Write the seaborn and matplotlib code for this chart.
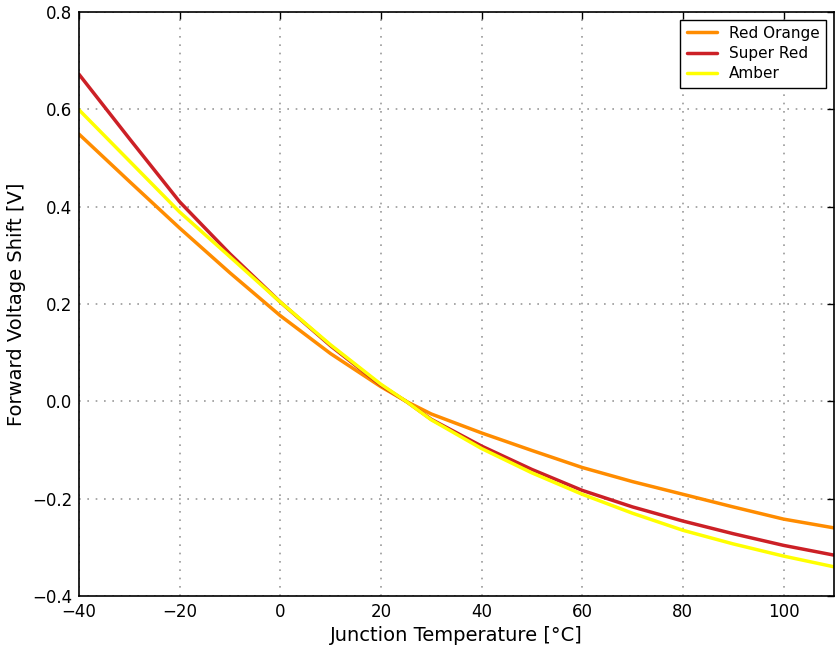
import matplotlib
matplotlib.use("Agg")
import matplotlib.pyplot as plt
import seaborn as sns
import pandas as pd

temperature = [-40, -30, -20, -10, 0, 10, 20, 25, 30, 40, 50, 60, 70, 80, 90, 100, 110]
red_orange = [0.549, 0.452, 0.356, 0.264, 0.176, 0.098, 0.030, 0.0, -0.026, -0.065,
              -0.101, -0.136, -0.165, -0.191, -0.217, -0.242, -0.260]
super_red = [0.672, 0.540, 0.410, 0.303, 0.204, 0.114, 0.033, 0.0, -0.037, -0.092,
             -0.140, -0.183, -0.217, -0.246, -0.272, -0.296, -0.316]
amber = [0.599, 0.494, 0.389, 0.297, 0.204, 0.116, 0.035, 0.0, -0.038, -0.097,
         -0.147, -0.191, -0.230, -0.265, -0.293, -0.318, -0.340]
series_names = ["Red Orange", "Super Red", "Amber"]
colors = ["#ff8c00", "#cc2026", "#ffff00"]

rows = []
for name, vals in zip(series_names, [red_orange, super_red, amber]):
    for t, v in zip(temperature, vals):
        rows.append({"Temperature": t, "Shift": v, "Series": name})
df = pd.DataFrame(rows)

sns.set_style("white")
plt.rcParams["font.family"] = ["DejaVu Sans"]
plt.rcParams["text.color"] = "black"
plt.rcParams["axes.labelcolor"] = "black"
plt.rcParams["xtick.color"] = "black"
plt.rcParams["ytick.color"] = "black"

fig = plt.figure(figsize=(8.35, 6.49), dpi=100)
ax = fig.add_axes([0.0946, 0.0817, 0.904, 0.8998])

sns.lineplot(data=df, x="Temperature", y="Shift", hue="Series",
             hue_order=series_names, palette=colors, linewidth=2.5, ax=ax,
             legend=True)

ax.set_xlim(-40, 110)
ax.set_ylim(-0.4, 0.8)
ax.set_xticks([-40, -20, 0, 20, 40, 60, 80, 100])
ax.set_yticks([-0.4, -0.2, 0.0, 0.2, 0.4, 0.6, 0.8])
ax.set_yticklabels(["\u22120.4", "\u22120.2", "0.0", "0.2", "0.4", "0.6", "0.8"])
ax.set_xticklabels(["\u221240", "\u221220", "0", "20", "40", "60", "80", "100"])
ax.grid(True, linestyle=(0, (1, 4)), color="#999999", linewidth=1.2)
ax.tick_params(direction="in", length=5, width=1, top=True, right=True,
               labelsize=12, pad=5, color="black", labelcolor="black")
for s in ax.spines.values():
    s.set_color("black")
    s.set_linewidth(1.2)
ax.set_xlabel("Junction Temperature [\u00b0C]", fontsize=14, labelpad=4, color="black")
ax.set_ylabel("Forward Voltage Shift [V]", fontsize=14, labelpad=4, color="black")

leg = ax.legend(loc="upper right", fontsize=11, frameon=True, fancybox=False,
                edgecolor="black", framealpha=1, borderaxespad=0.5,
                handlelength=2.0, title=None, labelspacing=0.35)
leg.get_frame().set_linewidth(1.0)
for line in leg.get_lines():
    line.set_linewidth(2.5)
for t in leg.get_texts():
    t.set_color("black")

fig.savefig("out.png", dpi=100)
